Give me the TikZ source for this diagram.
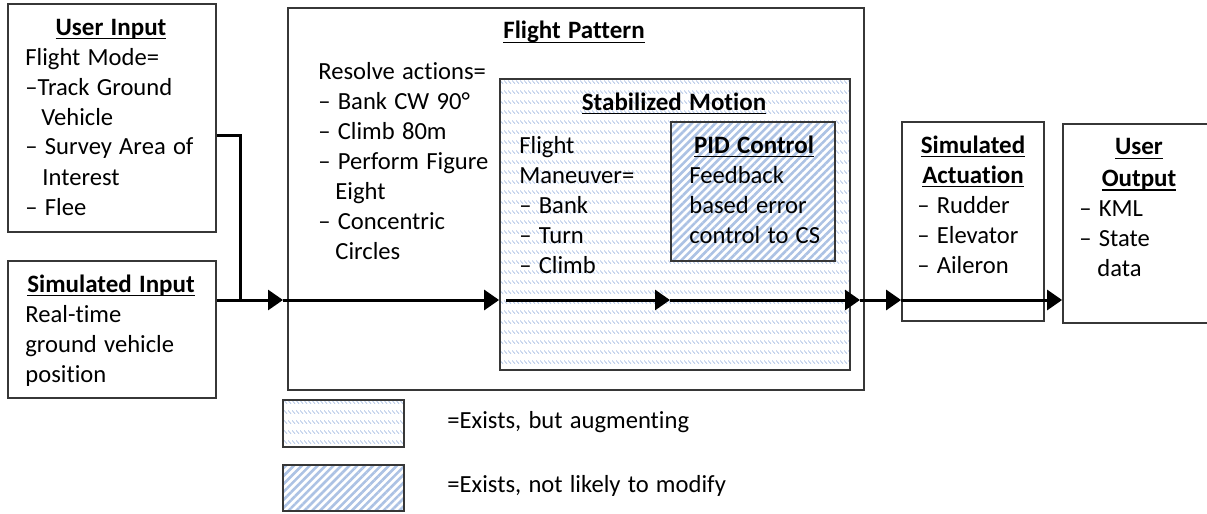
\documentclass[tikz,border=0pt]{standalone}
\usepackage{fontspec}
\setmainfont{Carlito}[WordSpace=1.3, Ligatures=NoCommon]
\usetikzlibrary{arrows.meta,patterns.meta,fit}
\newcommand\myul[1]{\vtop{\hbox{\raisebox{0pt}[\height][1.3pt]{#1}}\hrule height 0.95pt}}
\definecolor{hatch}{RGB}{172,194,228}
\definecolor{hatchlight}{RGB}{168,190,226}
\definecolor{edge}{RGB}{55,55,55}
\pgfdeclarepattern{
  name=augdash,
  type=uncolored,
  bottom left={\pgfpoint{0pt}{0pt}},
  top right={\pgfpoint{2pt}{5pt}},
  tile size={\pgfpoint{2pt}{5pt}},
  code={
    \pgfsetlinewidth{0.38pt}
    \pgfpathmoveto{\pgfpoint{0.1pt}{1.9pt}}
    \pgfpathlineto{\pgfpoint{1.9pt}{0.1pt}}
    \pgfusepath{stroke}
  }
}
\tikzset{
  box/.style={draw=edge, line width=0.9pt, inner sep=0pt},
  ttl/.style={font=\fontsize{12.5}{15}\selectfont\bfseries, anchor=base, inner sep=0pt},
  txt/.style={font=\fontsize{12.3}{15}\selectfont, anchor=base west, inner sep=0pt},
  conn/.style={line width=1.5pt, draw=black},
  arr/.style={conn, -{Triangle[length=7.5pt,width=10pt]}},
  augfill/.style={pattern=augdash, pattern color=hatchlight},
  stripefill/.style={preaction={fill=white}, pattern={Lines[angle=45,distance=2.8pt,line width=1.3pt]}, pattern color=hatch},
}
\begin{document}
\begin{tikzpicture}[x=0.5pt,y=-0.5pt]
\useasboundingbox (0,0) rectangle (1207,514);
\clip (0,0) rectangle (1207,514);

% boxes
\node[box, fit={(8,4) (216,232)}] (ui) {};
\node[box, fit={(8,261) (216,398)}] (si) {};
\node[box, fit={(288,8) (864,390)}] (fp) {};
\node[box, augfill, fit={(500,79) (850,370)}] (sm) {};
\node[box, stripefill, fit={(671,122) (835,261)}] (pid) {};
\node[box, fit={(902,122) (1044,321)}] (sa) {};
\node[box, fit={(1063,124) (1215,323)}] (uo) {};
\node[box, augfill, fit={(283,400) (404,447)}] (lg1) {};
\node[box, stripefill, fit={(283,465) (404,511)}] (lg2) {};

% User Input
\node[ttl] (ui-t) at (111,35) {\myul{User Input}};
\foreach \s [count=\i from 0] in {Flight Mode=,–Track Ground,\hspace{8pt}Vehicle,– Survey Area of,\hspace{8.5pt}Interest,– Flee}
  \node[txt] (ui-b\i) at (25,{65+30*\i}) {\s};

% Simulated Input
\node[ttl] (si-t) at (111,292) {\myul{Simulated Input}};
\foreach \s [count=\i from 0] in {Real-time,ground vehicle,position}
  \node[txt] (si-b\i) at (25,{322+30*\i}) {\s};

% Flight Pattern
\node[ttl] (fp-t) at (574,39) {\myul{Flight Pattern}};
\foreach \s [count=\i from 0] in {Resolve actions=,– Bank CW 90°,– Climb 80m,– Perform Figure,\hspace{8.5pt}Eight,– Concentric,\hspace{8.5pt}Circles}
  \node[txt] (fp-b\i) at (318,{79+30*\i}) {\s};

% Stabilized Motion
\node[ttl] (sm-t) at (674,110) {\myul{Stabilized Motion}};
\foreach \s [count=\i from 0] in {Flight,Maneuver=,– Bank,– Turn,– Climb}
  \node[txt] (sm-b\i) at (519,{153+30*\i}) {\s};

% PID Control
\node[ttl] (pid-t) at (754,153) {\myul{PID Control}};
\foreach \s [count=\i from 0] in {Feedback,based error,control to CS}
  \node[txt] (pid-b\i) at (689,{183+30*\i}) {\s};

% Simulated Actuation
\node[ttl] (sa-t1) at (973,153) {\myul{Simulated}};
\node[ttl] (sa-t2) at (973,183) {\myul{Actuation}};
\foreach \s [count=\i from 0] in {– Rudder,– Elevator,– Aileron}
  \node[txt] (sa-b\i) at (917,{213+30*\i}) {\s};

% User Output
\node[ttl] (uo-t1) at (1139,155) {\myul{User}};
\node[ttl] (uo-t2) at (1139,186) {\myul{Output}};
\node[txt] (uo-b0) at (1079,216) {– KML};
\node[txt] (uo-b1) at (1079,246) {– State};
\node[txt] (uo-b2) at (1097,276) {data};

% legend
\node[txt] (lg1-t) at (447,428) {=Exists, but augmenting};
\node[txt] (lg2-t) at (447,492) {=Exists, not likely to modify};

% connectors
\coordinate (j) at (240,300);
\coordinate (a1) at (283,300);
\coordinate (a3) at (670,300);
\coordinate (a4) at (860,300);
\draw[conn] (ui.east) ++(0,17) -| (j);
\draw[arr] (si.east |- j) -- (a1);
\draw[arr] (a1) -- (sm.west |- j);
\draw[arr] ([xshift=3.5pt]sm.west |- j) -- (a3);
\draw[arr] (a3) -- (a4);
\draw[arr] (a4) -- (sa.west |- j);
\draw[arr] (sa.west |- j) -- (uo.west |- j);
\end{tikzpicture}
\end{document}
